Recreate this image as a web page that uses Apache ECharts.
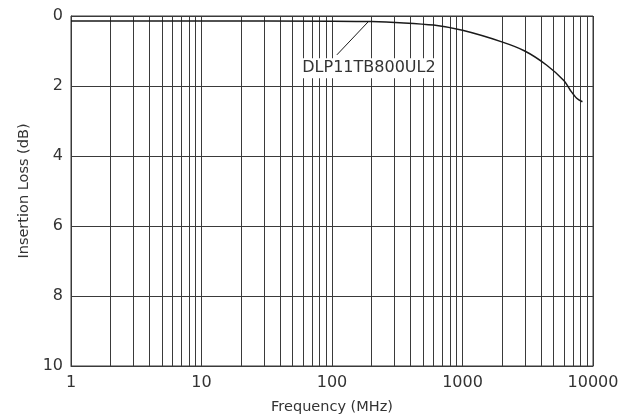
<!DOCTYPE html>
<html><head><meta charset="utf-8">
<script src="https://cdn.jsdelivr.net/npm/echarts@6/dist/echarts.min.js"></script>
<style>html,body{margin:0;padding:0;background:#fff}#c{width:633px;height:416px}</style>
</head><body><div id="c"></div>
<script>
const freqMHz = [1, 10, 100, 200, 330, 600, 1000, 2000, 3000, 4400, 6000, 6700, 7500, 8300];
const lossDb  = [0.14, 0.14, 0.15, 0.16, 0.19, 0.26, 0.41, 0.74, 1.00, 1.40, 1.85, 2.12, 2.35, 2.45];
const minorFreqs = [2,3,4,5,6,7,8,9,20,30,40,50,60,70,80,90,200,300,400,500,600,700,800,900,2000,3000,4000,5000,6000,7000,8000,9000];
const seriesName = 'DLP11TB800UL2';
const leaderFrom = [190, 0.16];
const leaderTo = [109, 1.11];
const labelAt = [192, 1.49];

const font = 'DejaVu Sans';
const txtColor = '#333';
const gridColor = '#3a3a3a';
const chart = echarts.init(document.getElementById('c'));
chart.setOption({
  animation: false,
  backgroundColor: '#fff',
  textStyle: {fontFamily: font},
  grid: {left: 71, right: 40, top: 16, bottom: 50, show: true, borderColor: gridColor, borderWidth: 1,
         containLabel: false, outerBoundsMode: 'none'},
  xAxis: {
    type: 'log', min: 1, max: 10000, logBase: 10,
    name: 'Frequency (MHz)', nameLocation: 'middle', nameGap: 34,
    nameTextStyle: {fontSize: 14.5, color: txtColor, fontFamily: font},
    axisLine: {show: true, onZero: false, lineStyle: {color: gridColor}},
    axisTick: {show: false},
    axisLabel: {fontSize: 16, color: txtColor, fontFamily: font, margin: 9, formatter: v => String(v)},
    splitLine: {show: true, lineStyle: {color: gridColor, width: 1}}
  },
  yAxis: {
    type: 'value', min: 0, max: 10, interval: 2, inverse: true,
    name: 'Insertion Loss (dB)', nameLocation: 'middle', nameGap: 39,
    nameTextStyle: {fontSize: 14.5, color: txtColor, fontFamily: font},
    axisLine: {show: true, lineStyle: {color: gridColor}},
    axisTick: {show: false},
    axisLabel: {fontSize: 16, color: txtColor, fontFamily: font, margin: 8},
    splitLine: {show: true, lineStyle: {color: gridColor, width: 1}}
  },
  series: [
    {
      type: 'line', name: 'minor', data: [], silent: true,
      markLine: {
        silent: true, symbol: 'none', animation: false,
        label: {show: false},
        lineStyle: {color: gridColor, width: 1, type: 'solid'},
        data: minorFreqs.map(f => ({xAxis: f}))
      }
    },
    {
      type: 'line', name: seriesName,
      data: freqMHz.map((f, i) => [f, lossDb[i]]),
      smooth: 0.3, showSymbol: false,
      lineStyle: {color: '#1a1a1a', width: 1.5},
      z: 5,
      markLine: {
        silent: true, symbol: 'none', animation: false,
        label: {show: false},
        lineStyle: {color: '#1a1a1a', width: 1, type: 'solid'},
        data: [[{coord: leaderFrom}, {coord: leaderTo}]]
      },
      markPoint: {
        silent: true, symbol: 'rect', symbolSize: 1,
        itemStyle: {color: 'rgba(0,0,0,0)'},
        data: [{coord: labelAt, value: seriesName}],
        label: {
          show: true, position: 'inside', formatter: seriesName,
          color: txtColor, fontSize: 16, fontFamily: font,
          backgroundColor: '#fff', padding: [2, 1]
        }
      }
    }
  ]
});
</script></body></html>
